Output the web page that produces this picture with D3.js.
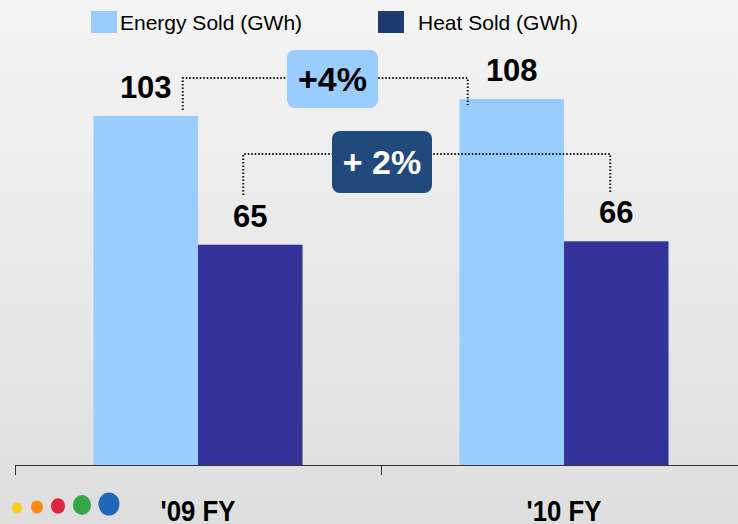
<!DOCTYPE html>
<html>
<head>
<meta charset="utf-8">
<script src="https://cdn.jsdelivr.net/npm/d3@7"></script>
<style>
  body { margin: 0; padding: 0; overflow: hidden; }
  svg { display: block; font-family: "Liberation Sans", Arial, sans-serif; }
</style>
</head>
<body>
<script>
var categories = ["'09 FY", "'10 FY"];
var seriesNames = ["Energy Sold (GWh)", "Heat Sold (GWh)"];
var energySold = [103, 108];
var heatSold = [65, 66];
var changeLabels = ["+4%", "+ 2%"];

var width = 738,
    height = 524;

var barColors = ["#99ccff", "#333399"];
var legendColors = ["#99ccff", "#1c3a6e"];

var svg = d3.select("body").append("svg")
    .attr("width", width)
    .attr("height", height);

// background gradient
var defs = svg.append("defs");
var grad = defs.append("linearGradient")
    .attr("id", "bg")
    .attr("x1", 0).attr("y1", 0).attr("x2", 0).attr("y2", 1);
grad.append("stop").attr("offset", "0%").attr("stop-color", "#f4f4f4");
grad.append("stop").attr("offset", "100%").attr("stop-color", "#dedede");
svg.append("rect").attr("width", width).attr("height", height).attr("fill", "url(#bg)");

var baseY = 465;

var x = d3.scaleBand()
    .domain(categories)
    .range([15, 747])
    .paddingInner(0)
    .paddingOuter(0);

var xs = d3.scaleBand()
    .domain(seriesNames)
    .range([0, x.bandwidth()])
    .paddingInner(0)
    .paddingOuter(0.751);

var y = d3.scaleLinear()
    .domain([0, 137.2])
    .range([baseY, 0]);

var rows = categories.map(function (c, i) {
    return [
        {cat: c, s: seriesNames[0], v: energySold[i], idx: 0},
        {cat: c, s: seriesNames[1], v: heatSold[i], idx: 1}
    ];
});
var flat = rows[0].concat(rows[1]);

// bars
svg.selectAll(".bar")
    .data(flat)
    .enter()
    .append("rect")
    .attr("class", "bar")
    .attr("x", d => x(d.cat) + xs(d.s))
    .attr("y", d => y(d.v))
    .attr("width", xs.bandwidth())
    .attr("height", d => baseY - y(d.v))
    .attr("fill", d => barColors[d.idx]);

// value labels
svg.selectAll(".val")
    .data(flat)
    .enter()
    .append("text")
    .attr("class", "val")
    .attr("x", d => x(d.cat) + xs(d.s) + xs.bandwidth() / 2)
    .attr("y", d => y(d.v) - 18)
    .attr("text-anchor", "middle")
    .attr("font-size", "31px")
    .attr("font-weight", "bold")
    .attr("fill", "#000")
    .text(d => d.v);

// x axis
var axisG = svg.append("g")
    .attr("transform", "translate(0," + baseY + ")");
axisG.append("line")
    .attr("x1", 15).attr("x2", width)
    .attr("y1", 0.5).attr("y2", 0.5)
    .attr("stroke", "#333").attr("stroke-width", 1);
axisG.selectAll(".tick")
    .data(categories)
    .enter()
    .append("line")
    .attr("x1", d => Math.round(x(d)) + 0.5)
    .attr("x2", d => Math.round(x(d)) + 0.5)
    .attr("y1", 0).attr("y2", 10)
    .attr("stroke", "#333");

// category labels (condensed bold)
svg.selectAll(".cat")
    .data(categories)
    .enter()
    .append("text")
    .attr("class", "cat")
    .attr("transform", d => "translate(" + (x(d) + x.bandwidth() / 2) + ",521) scale(0.86,1)")
    .attr("text-anchor", "middle")
    .attr("font-size", "30px")
    .attr("font-weight", "bold")
    .text(d => d);

// logo dots
var logoDots = [
    {cx: 17, cy: 508, r: 5, c: "#ffcc00"},
    {cx: 37, cy: 507, r: 6, c: "#ff8000"},
    {cx: 58, cy: 506, r: 7, c: "#e0102a"},
    {cx: 82, cy: 505, r: 9, c: "#22a033"},
    {cx: 109, cy: 504, r: 10.5, c: "#0a5ab4"}
];
svg.selectAll(".logo")
    .data(logoDots)
    .enter()
    .append("ellipse")
    .attr("cx", d => d.cx)
    .attr("cy", d => d.cy)
    .attr("rx", d => d.r)
    .attr("ry", d => d.r * 1.1)
    .attr("fill", d => d.c)
    .attr("opacity", 0.9);

// legend
var legend = svg.append("g");
var legendX = [91, 378];
var legendTextX = [120, 418];
seriesNames.forEach(function (s, i) {
    legend.append("rect")
        .attr("x", legendX[i]).attr("y", 11)
        .attr("width", 26).attr("height", 22)
        .attr("fill", legendColors[i]);
    legend.append("text")
        .attr("x", legendTextX[i]).attr("y", 30)
        .attr("font-size", "21px")
        .attr("fill", "#000")
        .text(s);
});

// change annotations
function barCenter(i, k) {
    return x(categories[i]) + xs(seriesNames[k]) + xs.bandwidth() / 2;
}
var ann = [
    {lineY: 78, x1: barCenter(0, 0) + 37, y1: 110, x2: barCenter(1, 0) - 44, y2: 105,
     box: [287, 50, 91, 58], fill: "#99ccff", txt: "#000", label: changeLabels[0]},
    {lineY: 154, x1: barCenter(0, 1) - 7, y1: 195, x2: barCenter(1, 1) - 6, y2: 192,
     box: [332, 131, 100, 62], fill: "#204a7c", txt: "#fff", label: changeLabels[1]}
];
ann.forEach(function (a) {
    var path = "M" + a.x1 + "," + a.y1 + "V" + a.lineY + "H" + a.x2 + "V" + a.y2;
    svg.append("path")
        .attr("d", path)
        .attr("fill", "none")
        .attr("stroke", "#111")
        .attr("stroke-width", 2)
        .attr("stroke-dasharray", "1.5,2");
    svg.append("rect")
        .attr("x", a.box[0]).attr("y", a.box[1])
        .attr("width", a.box[2]).attr("height", a.box[3])
        .attr("rx", 8).attr("ry", 8)
        .attr("fill", a.fill);
    svg.append("text")
        .attr("x", a.box[0] + a.box[2] / 2)
        .attr("y", a.box[1] + a.box[3] / 2 + 12)
        .attr("text-anchor", "middle")
        .attr("font-size", "34px")
        .attr("font-weight", "bold")
        .attr("fill", a.txt)
        .text(a.label);
});
</script>
</body>
</html>
